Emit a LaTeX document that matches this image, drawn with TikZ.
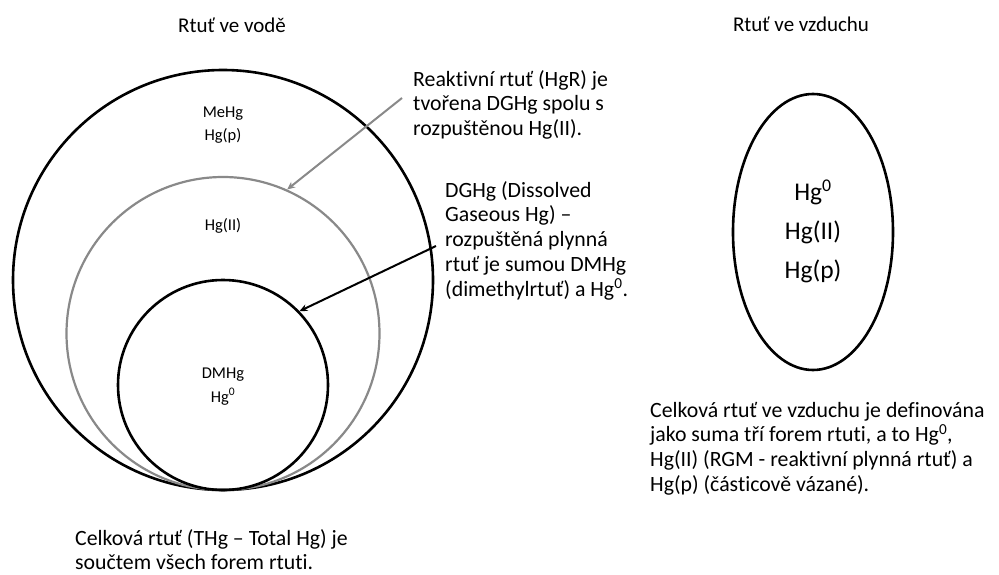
\documentclass[tikz,border=0pt]{standalone}
\usepackage{fontspec}
\setmainfont{Carlito}[Ligatures=NoCommon]
\usetikzlibrary{arrows.meta,shapes.geometric}
\definecolor{ringgray}{RGB}{137,137,137}
\begin{document}
\begin{tikzpicture}[x=1pt,y=-1pt,
  ring/.style={circle, draw, inner sep=0pt, line width=2.6pt},
  oval/.style={ellipse, draw, inner sep=0pt, line width=2.6pt},
  body/.style={anchor=north west, inner sep=0pt, align=left, font=\fontsize{21.8}{24.7}\selectfont},
  title/.style={anchor=base, inner sep=0pt, font=\fontsize{21}{24}\selectfont},
  small/.style={anchor=north, inner sep=0pt, align=center},
  pointer/.style={line width=2pt, -{Stealth[length=8pt,width=7pt]}}]
\useasboundingbox (0,0) rectangle (999,575);
% circles
\node[ring, minimum size=420pt] (outer) at (223,280) {};
\node[ring, draw=ringgray, line width=2.2pt, minimum size=313pt] (mid) at (223,333.5) {};
\node[ring, minimum size=210pt] (inner) at (223,385) {};
\node[oval, minimum width=160pt, minimum height=276pt] (air) at (813,232) {};
% titles
\node[title] (t1) at (232,33) {Rtuť ve vodě};
\node[title] (t2) at (801,32) {Rtuť ve vzduchu};
% inner labels
\node[small, font=\fontsize{16.5}{23}\selectfont] (l1) at (223,101) {\rule{0pt}{16pt}MeHg\\Hg(p)};
\node[small, font=\fontsize{16.5}{23}\selectfont] (l2) at (223,214) {\rule{0pt}{16pt}Hg(II)};
\node[small, font=\fontsize{16.5}{24}\selectfont] (l3) at (223,362) {\rule{0pt}{16pt}DMHg\\Hg\textsuperscript{0}};
\node[small, font=\fontsize{25.5}{39}\selectfont] (l4) at (813,176) {\rule{0pt}{24pt}Hg\textsuperscript{0}\\Hg(II)\\Hg(p)};
% text blocks
\node[body] (b1) at (413,68) {\rule{0pt}{18pt}Reaktivní rtuť (HgR) je\\tvořena DGHg spolu s\\rozpuštěnou Hg(II).};
\node[body] (b2) at (445,179) {\rule{0pt}{18pt}DGHg (Dissolved\\Gaseous Hg) –\\rozpuštěná plynná\\rtuť je sumou DMHg\\(dimethylrtuť) a Hg\textsuperscript{0}.};
\node[body, font=\fontsize{21.8}{23.8}\selectfont] (b3) at (75,527) {\rule{0pt}{18pt}Celková rtuť (THg – Total Hg) je\\součtem všech forem rtuti.};
\node[body] (b4) at (650,399) {\rule{0pt}{18pt}Celková rtuť ve vzduchu je definována\\jako suma tří forem rtuti, a to Hg\textsuperscript{0},\\Hg(II) (RGM - reaktivní plynná rtuť) a\\Hg(p) (částicově vázané).};
% arrows
\coordinate (s1) at (402,98);
\coordinate (s2) at (436,246);
\draw[pointer, ringgray] (s1) -- (mid.66);
\draw[pointer] (s2) -- (inner.44);
\end{tikzpicture}
\end{document}
